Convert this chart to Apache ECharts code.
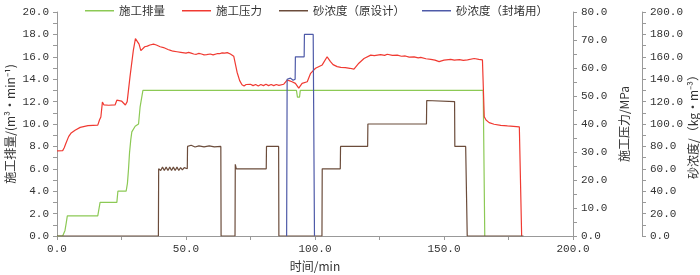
<!DOCTYPE html>
<html>
<head>
<meta charset="utf-8">
<script src="https://cdn.jsdelivr.net/npm/echarts@6/dist/echarts.min.js"></script>
<style>
  html, body { margin: 0; padding: 0; background: #fff; }
  #chart { width: 700px; height: 275px; }
</style>
</head>
<body>
<div id="chart"></div>
<script>
// 图例名称
const seriesNames = ['施工排量', '施工压力', '砂浓度（原设计）', '砂浓度（封堵用）'];

// 施工排量 [时间 min, m³/min]
const flowData = [
  [0, 0], [2.2, 0], [3.1, 0.5], [3.6, 1.2], [4.0, 1.8], [15.8, 1.8], [16.7, 3.0],
  [23.2, 3.0], [23.6, 4.0], [26.8, 4.0], [27.3, 4.7], [27.7, 5.9], [28.1, 7.4],
  [28.6, 8.6], [29.0, 9.3], [30.3, 9.8], [31.6, 10.0], [32.2, 11.5], [33.3, 13.0],
  [92.8, 13.0], [93.2, 12.4], [94.0, 12.4], [94.3, 13.0], [165.2, 13.0], [165.8, 0]
];

// 施工压力 [时间 min, MPa]
const pressureData = [
  [0, 30.4], [2.2, 30.5], [2.8, 31.5], [3.5, 33.2], [4.5, 35.5], [5.5, 36.8], [7, 37.8],
  [9, 38.8], [12, 39.4], [15.8, 39.6], [16.5, 41.5], [17.0, 42.5], [17.6, 47.8],
  [18.2, 46.8], [20, 46.7], [22.5, 46.8], [23.2, 48.5], [23.8, 49.0], [25, 48.2],
  [26.5, 46.8], [27.2, 48.0], [28.3, 56.9], [29.6, 66.4], [30.4, 70.5], [30.9, 69.8],
  [31.8, 68.5], [32.5, 66.2], [33, 66.8], [34, 67.6], [35, 67.8], [36, 68.2], [37.4, 68.5],
  [38.5, 68.2], [40, 67.6], [41.3, 67.3], [42, 67.0], [43, 66.6], [44, 66.3], [45, 66.0],
  [46.5, 65.8], [48, 65.6], [50, 65.3], [51, 65.6], [52, 65.3], [53, 65.0], [54, 64.9],
  [55, 65.2], [56, 65.0], [57, 64.7], [58, 64.8], [59.4, 65.0], [60.5, 64.7], [61, 64.9],
  [62, 65.1], [63, 65.1], [64, 65.4], [65, 65.3], [66, 65.5], [67.2, 65.0], [68.5, 64.2],
  [69.8, 58.5], [70.8, 55.5], [71.7, 54.0], [72.5, 53.6], [73.3, 54.1], [74, 53.7],
  [75, 54.2], [76, 53.7], [77, 54.1], [78, 53.6], [79, 54.1], [80, 53.7], [81, 54.2],
  [82, 53.7], [83, 54.1], [84, 53.7], [85, 54.1], [86, 53.8], [87.9, 54.2], [89.2, 55.7],
  [90.2, 55.4], [91.1, 55.1], [92.4, 54.5], [93.7, 52.8], [95, 54.5], [97, 55.1],
  [98.3, 58.1], [100.2, 59.9], [102.8, 61.1], [104.7, 64.0], [106, 62.3], [107, 61.2],
  [108.6, 60.5], [110, 60.2], [111.8, 60.1], [113.5, 59.9], [115.1, 59.6], [117, 61.7],
  [119, 63.4], [121.6, 64.6], [123, 64.4], [125.4, 64.8], [127, 64.5], [128, 64.9],
  [130, 64.5], [131.9, 64.6], [133.5, 64.2], [135, 64.3], [136.5, 63.9], [138.4, 64.0],
  [140, 63.6], [141, 63.8], [143, 63.3], [144.9, 63.1], [146.5, 62.8], [148.1, 62.3],
  [150, 62.8], [152.6, 63.1], [154, 62.8], [156, 63.0], [157.5, 62.7], [159.1, 62.9],
  [161.7, 63.4], [163.5, 63.1], [164.9, 62.9], [165.6, 42.6], [166.3, 41.4],
  [167.5, 40.5], [169.4, 39.9], [172, 39.5], [174.6, 39.3], [179.2, 39.0], [180.1, 0]
];

// 砂浓度（原设计） [时间 min, kg/m³]
const sandDesignData = [
  [0, 0], [39.3, 0], [39.4, 60], [40.2, 58.5], [40.9, 61.5], [41.6, 58.5], [42.3, 61.5],
  [43.0, 58.5], [43.7, 61.5], [44.4, 58.5], [45.1, 61.5], [45.8, 58.5], [46.5, 61.5],
  [47.2, 58.5], [47.9, 61], [48.6, 59], [49.3, 61], [50.5, 60], [50.6, 80], [52, 81],
  [53.5, 79.5], [55, 80.5], [57, 79.5], [59, 80.5], [61, 79.5], [63.5, 80], [63.6, 0],
  [69, 0], [69.1, 64], [69.5, 60], [81.1, 60], [81.2, 80], [85.9, 80], [86, 0],
  [102.7, 0], [102.8, 60], [109.8, 60], [109.9, 80], [120.4, 80], [120.5, 100],
  [143.2, 100], [143.3, 121], [144, 120], [154.1, 120], [154.2, 80], [158.4, 80],
  [159.0, 0], [180.8, 0]
];

// 砂浓度（封堵用） [时间 min, kg/m³]
const sandPlugData = [
  [89.0, 0], [89.2, 140], [90.5, 141], [91.5, 139], [92.3, 140], [92.4, 160],
  [95.8, 160], [95.9, 180], [99.3, 180], [99.8, 0]
];

const chart = echarts.init(document.getElementById('chart'));

const numFont = 'Liberation Mono';
const cjkFont = '"Noto Sans CJK SC", sans-serif';
const axisGrey = '#999';
const textColor = '#333';

function valueAxis(opts) {
  return Object.assign({
    type: 'value',
    nameLocation: 'middle',
    nameTextStyle: { fontFamily: cjkFont, fontSize: 12, color: textColor },
    axisLine: { show: true, lineStyle: { color: axisGrey } },
    axisTick: { show: true, length: 4, lineStyle: { color: axisGrey } },
    minorTick: { show: true, splitNumber: 2, length: 4, lineStyle: { color: axisGrey } },
    splitLine: { show: false },
    axisLabel: {
      fontFamily: numFont, fontSize: 11, color: textColor,
      formatter: v => v.toFixed(1)
    }
  }, opts);
}

const option = {
  animation: false,
  backgroundColor: '#fff',
  grid: { left: 57, right: 127, top: 12, bottom: 39, outerBoundsMode: 'none', containLabel: false },
  legend: {
    top: 0,
    left: 80,
    icon: 'rect',
    itemWidth: 29,
    itemHeight: 1.5,
    itemGap: 17,
    textStyle: { fontFamily: cjkFont, fontSize: 11.5, color: textColor },
    data: seriesNames
  },
  xAxis: valueAxis({
    min: 0, max: 200, interval: 50,
    name: '时间/min',
    nameGap: 24
  }),
  yAxis: [
    valueAxis({
      min: 0, max: 20, interval: 2,
      name: '施工排量/(m³•min⁻¹)',
      nameGap: 41,
      nameMoveOverlap: false,
      position: 'left'
    }),
    valueAxis({
      min: 0, max: 80, interval: 10,
      name: '施工压力/MPa',
      nameGap: 44,
      position: 'right'
    }),
    valueAxis({
      min: 0, max: 200, interval: 20,
      name: '砂浓度/（kg•m⁻³）',
      nameGap: 45,
      nameMoveOverlap: false,
      position: 'right',
      offset: 69
    })
  ],
  series: [
    { name: seriesNames[0], type: 'line', data: flowData, yAxisIndex: 0, symbol: 'none',
      lineStyle: { color: '#8cc955', width: 1.2 }, itemStyle: { color: '#8cc955' } },
    { name: seriesNames[1], type: 'line', data: pressureData, yAxisIndex: 1, symbol: 'none',
      lineStyle: { color: '#f03a32', width: 1.2 }, itemStyle: { color: '#f03a32' } },
    { name: seriesNames[2], type: 'line', data: sandDesignData, yAxisIndex: 2, symbol: 'none',
      lineStyle: { color: '#6b4c3b', width: 1.2 }, itemStyle: { color: '#6b4c3b' } },
    { name: seriesNames[3], type: 'line', data: sandPlugData, yAxisIndex: 2, symbol: 'none',
      lineStyle: { color: '#4e5aa8', width: 1.2 }, itemStyle: { color: '#4e5aa8' } }
  ]
};

chart.setOption(option);
</script>
</body>
</html>
